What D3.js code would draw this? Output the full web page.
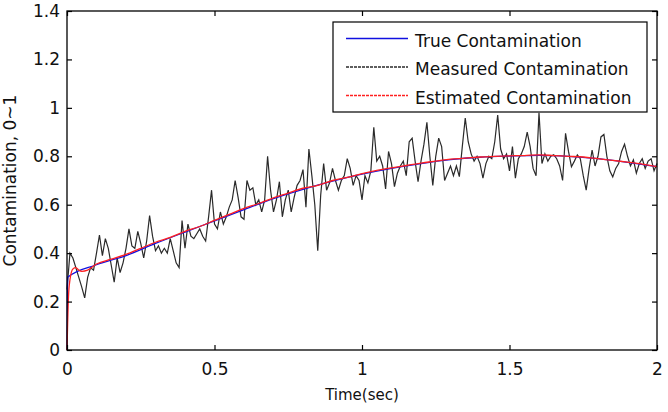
<!DOCTYPE html>
<html>
<head>
<meta charset="utf-8">
<script src="https://cdn.jsdelivr.net/npm/d3@7"></script>
<style>
  body { margin: 0; background: #fff; }
  svg text { font-family: "DejaVu Sans", sans-serif; fill: #111; }
</style>
</head>
<body>
<div id="container"></div>
<script>
// ---------------------------- DATA ----------------------------//
const xTicks = [0, 0.5, 1, 1.5, 2];
const xTickLabels = ["0", "0.5", "1", "1.5", "2"];
const yTicks = [0, 0.2, 0.4, 0.6, 0.8, 1, 1.2, 1.4];
const yTickLabels = ["0", "0.2", "0.4", "0.6", "0.8", "1", "1.2", "1.4"];

const seriesNames = ["True Contamination", "Measured Contamination", "Estimated Contamination"];
const seriesColors = ["#1010e0", "#2a2a2a", "#ff2020"];

// measured signal, one value every 0.01 s from t = 0
const measuredStep = 0.01;
const measured = [
  0.25, 0.40, 0.38, 0.34, 0.30, 0.26, 0.215, 0.30, 0.34, 0.33,
  0.40, 0.475, 0.39, 0.46, 0.42, 0.35, 0.28, 0.38, 0.32, 0.36,
  0.42, 0.50, 0.43, 0.42, 0.49, 0.44, 0.38, 0.45, 0.555, 0.47,
  0.41, 0.43, 0.40, 0.42, 0.40, 0.46, 0.41, 0.36, 0.34, 0.535,
  0.42, 0.52, 0.47, 0.46, 0.48, 0.50, 0.47, 0.45, 0.55, 0.66,
  0.52, 0.50, 0.57, 0.52, 0.55, 0.59, 0.62, 0.70, 0.63, 0.55,
  0.54, 0.70, 0.66, 0.67, 0.60, 0.62, 0.57, 0.62, 0.80, 0.66,
  0.57, 0.62, 0.695, 0.55, 0.62, 0.66, 0.57, 0.63, 0.68, 0.70,
  0.745, 0.59, 0.83, 0.72, 0.60, 0.41, 0.64, 0.77, 0.66, 0.69,
  0.75, 0.70, 0.66, 0.70, 0.72, 0.79, 0.75, 0.68, 0.72, 0.70,
  0.62, 0.72, 0.69, 0.74, 0.92, 0.78, 0.80, 0.76, 0.665, 0.82,
  0.77, 0.675, 0.73, 0.76, 0.78, 0.72, 0.86, 0.875, 0.78, 0.695,
  0.78, 0.85, 0.94, 0.80, 0.68, 0.80, 0.875, 0.84, 0.70, 0.73,
  0.76, 0.72, 0.76, 0.716, 0.84, 0.958, 0.86, 0.81, 0.78, 0.80,
  0.77, 0.71, 0.77, 0.80, 0.79, 0.86, 0.97, 0.83, 0.79, 0.81,
  0.74, 0.84, 0.71, 0.79, 0.81, 0.84, 0.90, 0.84, 0.75, 0.72,
  0.98, 0.77, 0.81, 0.78, 0.80, 0.806, 0.79, 0.76, 0.70, 0.895,
  0.82, 0.757, 0.78, 0.806, 0.79, 0.72, 0.66, 0.75, 0.826, 0.76,
  0.80, 0.88, 0.89, 0.80, 0.74, 0.715, 0.75, 0.77, 0.82, 0.85,
  0.80, 0.76, 0.785, 0.73, 0.77, 0.79, 0.75, 0.78, 0.79, 0.74,
  0.77
];

const trueTime = [0, 0.002, 0.1, 0.2, 0.3, 0.4, 0.5, 0.6, 0.7, 0.8, 0.9, 1.0,
  1.1, 1.2, 1.3, 1.4, 1.5, 1.6, 1.7, 1.8, 1.9, 2.0];
const trueValues = [0, 0.30, 0.352, 0.39, 0.44, 0.487, 0.533, 0.58, 0.625, 0.663, 0.697, 0.726,
  0.75, 0.77, 0.786, 0.796, 0.801, 0.804, 0.80, 0.79, 0.775, 0.757];

const estTime = [0, 0.005, 0.01, 0.02, 0.03, 0.04, 0.05, 0.07, 0.1, 0.15, 0.2, 0.25, 0.3,
  0.35, 0.4, 0.45, 0.5, 0.55, 0.6, 0.65, 0.7, 0.75, 0.8, 0.85, 0.9, 0.95, 1.0,
  1.05, 1.1, 1.15, 1.2, 1.25, 1.3, 1.35, 1.4, 1.45, 1.5, 1.55, 1.6, 1.65, 1.7,
  1.75, 1.8, 1.85, 1.9, 1.95, 2.0];
const estValues = [0, 0.22, 0.29, 0.335, 0.34, 0.33, 0.325, 0.33, 0.355, 0.375, 0.395, 0.42, 0.445,
  0.465, 0.49, 0.51, 0.535, 0.56, 0.585, 0.605, 0.628, 0.648, 0.668, 0.68, 0.70, 0.713, 0.728,
  0.742, 0.752, 0.762, 0.772, 0.78, 0.788, 0.792, 0.797, 0.80, 0.802, 0.803, 0.806, 0.803, 0.80,
  0.797, 0.79, 0.783, 0.776, 0.768, 0.757];

// ---------------------------- SETUP ----------------------------//
const width = 668;
const height = 412;
const margin = { top: 11, right: 11, bottom: 62, left: 67 };
const fontSize = 17;

const svg = d3.select("#container").append("svg")
  .attr("width", width)
  .attr("height", height);

const xScale = d3.scaleLinear().domain([0, 2]).range([margin.left, width - margin.right]);
const yScale = d3.scaleLinear().domain([0, 1.4]).range([height - margin.bottom, margin.top]);

// ---------------------------- LINES ----------------------------//
const measuredPts = measured.map((v, i) => [i * measuredStep, v]);
const truePts = trueTime.map((t, i) => [t, trueValues[i]]);
const estPts = estTime.map((t, i) => [t, estValues[i]]);

const line = d3.line()
  .x(d => xScale(d[0]))
  .y(d => yScale(d[1]));
const smooth = d3.line()
  .curve(d3.curveMonotoneX)
  .x(d => xScale(d[0]))
  .y(d => yScale(d[1]));

svg.append("path")
  .attr("d", line(measuredPts))
  .attr("fill", "none")
  .attr("stroke", seriesColors[1])
  .attr("stroke-width", 1.2);

svg.append("path")
  .attr("d", smooth(truePts))
  .attr("fill", "none")
  .attr("stroke", seriesColors[0])
  .attr("stroke-width", 1.3);

svg.append("path")
  .attr("d", smooth(estPts))
  .attr("fill", "none")
  .attr("stroke", seriesColors[2])
  .attr("stroke-width", 1.3);

// ---------------------------- AXES ----------------------------//
const xAxis = d3.axisBottom(xScale)
  .tickValues(xTicks)
  .tickFormat((d, i) => xTickLabels[i])
  .tickSize(-5)
  .tickPadding(13);
const yAxis = d3.axisLeft(yScale)
  .tickValues(yTicks)
  .tickFormat((d, i) => yTickLabels[i])
  .tickSize(-5)
  .tickPadding(7);

svg.append("g")
  .attr("transform", "translate(0," + (height - margin.bottom) + ")")
  .call(xAxis);
svg.append("g")
  .attr("transform", "translate(" + margin.left + ",0)")
  .call(yAxis);
svg.append("g")
  .attr("transform", "translate(0," + margin.top + ")")
  .call(d3.axisTop(xScale).tickValues(xTicks).tickFormat("").tickSize(-5));
svg.append("g")
  .attr("transform", "translate(" + (width - margin.right) + ",0)")
  .call(d3.axisRight(yScale).tickValues(yTicks).tickFormat("").tickSize(-5));

svg.selectAll(".domain").remove();
svg.selectAll(".tick line").attr("stroke", "#000").attr("stroke-width", 1.2);
svg.selectAll(".tick text")
  .style("font-family", "DejaVu Sans, sans-serif")
  .style("font-size", fontSize + "px")
  .attr("fill", "#111");

svg.append("rect")
  .attr("x", margin.left)
  .attr("y", margin.top)
  .attr("width", width - margin.left - margin.right)
  .attr("height", height - margin.top - margin.bottom)
  .attr("fill", "none")
  .attr("stroke", "#000")
  .attr("stroke-width", 1.3);

svg.append("text")
  .attr("x", (margin.left + width - margin.right) / 2)
  .attr("y", 400)
  .attr("text-anchor", "middle")
  .style("font-size", "15px")
  .text("Time(sec)");

svg.append("text")
  .attr("transform", "translate(16," + ((margin.top + height - margin.bottom) / 2) + ") rotate(-90)")
  .attr("text-anchor", "middle")
  .style("font-size", fontSize + "px")
  .text("Contamination, 0~1");

// ---------------------------- LEGEND ----------------------------//
const legend = svg.append("g").attr("transform", "translate(333,22)");
legend.append("rect")
  .attr("width", 314)
  .attr("height", 90)
  .attr("fill", "#fff")
  .attr("stroke", "#000")
  .attr("stroke-width", 1.2);

const rows = legend.selectAll("g.row")
  .data(seriesNames)
  .enter()
  .append("g")
  .attr("class", "row")
  .attr("transform", (d, i) => "translate(0," + (18.5 + i * 28.5) + ")");

rows.append("line")
  .attr("x1", 13).attr("x2", 75)
  .attr("y1", -2).attr("y2", -2)
  .attr("stroke", (d, i) => seriesColors[i])
  .attr("stroke-width", 1.4)
  .attr("stroke-dasharray", (d, i) => i === 0 ? null : "3,1");

rows.append("text")
  .attr("x", 82)
  .attr("dy", "0.36em")
  .style("font-size", fontSize + "px")
  .text(d => d);
</script>
</body>
</html>
